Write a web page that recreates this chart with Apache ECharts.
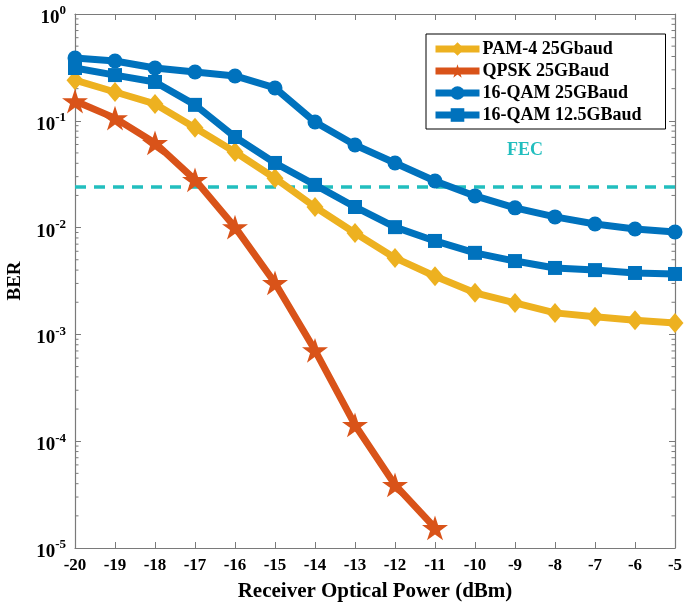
<!DOCTYPE html>
<html>
<head>
<meta charset="utf-8">
<script src="https://cdn.jsdelivr.net/npm/echarts@6/dist/echarts.min.js"></script>
<style>
  html, body { margin: 0; padding: 0; background: #fff; }
  #main { width: 685px; height: 606px; }
</style>
</head>
<body>
<div id="main"></div>
<script>
// received optical power (dBm)
var power = [-20, -19, -18, -17, -16, -15, -14, -13, -12, -11, -10, -9, -8, -7, -6, -5];
var pam4 = [0.24, 0.186, 0.144, 0.086, 0.051, 0.029, 0.0156, 0.0089, 0.0052, 0.0035, 0.00245, 0.00197, 0.00159, 0.00146, 0.00136, 0.00128];
var qpsk = [0.153, 0.106, 0.062, 0.028, 0.0101, 0.00303, 0.00071, 0.000142, 0.000039, 0.0000154];
var qam25 = [0.387, 0.363, 0.312, 0.286, 0.263, 0.203, 0.0975, 0.0593, 0.0403, 0.0273, 0.0198, 0.0153, 0.0126, 0.0108, 0.0097, 0.0091];
var qam125 = [0.312, 0.268, 0.231, 0.141, 0.0705, 0.0403, 0.0251, 0.0156, 0.0101, 0.0075, 0.0058, 0.00486, 0.00419, 0.0040, 0.00376, 0.00368];
var fecLimit = 0.024;
var seriesNames = ['PAM-4 25Gbaud', 'QPSK 25GBaud', '16-QAM 25GBaud', '16-QAM 12.5GBaud'];
var yTicks = ['10^0', '10^-1', '10^-2', '10^-3', '10^-4', '10^-5'];

var starPath = 'path://M100,0 L122.45,69.1 L195.1,69.1 L136.33,111.8 L158.78,180.9 L100,138.2 L41.22,180.9 L63.67,111.8 L4.9,69.1 L77.55,69.1 Z';

function pairs(ys) {
  return ys.map(function (v, i) { return [power[i], v]; });
}

// minor ticks for the log axis (2..9 in each decade)
var minorTicks = [];
for (var e = -5; e < 0; e++) {
  for (var m = 2; m <= 9; m++) minorTicks.push([-20, m * Math.pow(10, e)]);
}

var font = '"Liberation Serif", "Times New Roman", serif';
var axisGray = '#7a7a7a';

var myChart = echarts.init(document.getElementById('main'));
var option = {
  backgroundColor: '#fff',
  animation: false,
  textStyle: { fontFamily: font },
  grid: { left: 75, right: 10, top: 14, bottom: 58, outerBoundsMode: 'none', containLabel: false },
  legend: {
    orient: 'vertical',
    left: 426,
    top: 34,
    padding: [6, 24, 5, 6],
    itemGap: 4,
    itemWidth: 44,
    itemHeight: 17,
    borderColor: '#000',
    borderWidth: 1,
    backgroundColor: '#fff',
    lineStyle: { width: 7 },
    textStyle: { fontFamily: font, fontWeight: 'bold', fontSize: 18, color: '#000', padding: [0, 0, 0, -2] },
    data: seriesNames
  },
  xAxis: [{
    type: 'value',
    min: -20, max: -5, interval: 1,
    name: 'Receiver Optical Power (dBm)',
    nameLocation: 'middle',
    nameGap: 33,
    nameTextStyle: { fontFamily: font, fontWeight: 'bold', fontSize: 21, color: '#000' },
    axisLine: { lineStyle: { color: axisGray, width: 1.2 } },
    axisTick: { inside: true, length: 6, lineStyle: { color: axisGray } },
    splitLine: { show: false },
    axisLabel: { fontFamily: font, fontWeight: 'bold', fontSize: 17, color: '#000', margin: 9,
      showMinLabel: true, showMaxLabel: true }
  }, {
    type: 'value', position: 'top',
    min: -20, max: -5, interval: 1,
    axisLine: { lineStyle: { color: axisGray, width: 1.2 } },
    axisTick: { inside: true, length: 6, lineStyle: { color: axisGray } },
    axisLabel: { show: false },
    splitLine: { show: false }
  }],
  yAxis: [{
    type: 'log', logBase: 10,
    min: 1e-5, max: 1,
    name: 'BER',
    nameLocation: 'middle',
    nameGap: 50,
    nameTextStyle: { fontFamily: font, fontWeight: 'bold', fontSize: 19, color: '#000' },
    axisLine: { show: true, lineStyle: { color: axisGray, width: 1.2 } },
    axisTick: { show: true, inside: true, length: 6, lineStyle: { color: axisGray } },
    splitLine: { show: false },
    axisLabel: {
      margin: 9,
      showMinLabel: true, showMaxLabel: true,
      formatter: function (v) {
        var p = Math.round(Math.log10(v));
        var t = yTicks[-p].split('^');
        return '{b|' + t[0] + '}{s|' + t[1] + '}';
      },
      rich: {
        b: { fontFamily: font, fontWeight: 'bold', fontSize: 19, color: '#000', padding: [8, 0, 0, 0] },
        s: { fontFamily: font, fontWeight: 'bold', fontSize: 13, color: '#000', padding: [0, 0, 6, 0] }
      }
    }
  }, {
    type: 'log', logBase: 10, position: 'right',
    min: 1e-5, max: 1,
    axisLine: { show: true, lineStyle: { color: axisGray, width: 1.2 } },
    axisTick: { show: true, inside: true, length: 6, lineStyle: { color: axisGray } },
    axisLabel: { show: false },
    splitLine: { show: false }
  }],
  series: [
    {
      type: 'custom',
      silent: true,
      data: minorTicks,
      z: 1,
      renderItem: function (params, api) {
        var p = api.coord([-20, api.value(1)]);
        var q = api.coord([-5, api.value(1)]);
        return {
          type: 'group',
          children: [
            { type: 'line', shape: { x1: p[0], y1: p[1], x2: p[0] + 3.5, y2: p[1] }, style: { stroke: axisGray, lineWidth: 1 } },
            { type: 'line', shape: { x1: q[0], y1: q[1], x2: q[0] - 3.5, y2: q[1] }, style: { stroke: axisGray, lineWidth: 1 } }
          ]
        };
      }
    },
    {
      name: 'FEC',
      type: 'line',
      data: [[-20, fecLimit], [-5, fecLimit]],
      symbol: 'none',
      lineStyle: { color: '#22bebe', width: 3.5, type: [11, 8] },
      z: 2,
      markPoint: {
        symbol: 'rect', symbolSize: 1,
        itemStyle: { color: 'transparent' },
        label: { show: true, formatter: 'FEC', color: '#22bebe', fontFamily: font, fontWeight: 'bold', fontSize: 18, offset: [0, -37] },
        data: [{ coord: [-8.75, fecLimit] }]
      }
    },
    {
      name: seriesNames[0], type: 'line', data: pairs(pam4),
      color: '#edb120', symbol: 'diamond', symbolSize: [17, 20],
      lineStyle: { width: 7 }, z: 3
    },
    {
      name: seriesNames[1], type: 'line', data: pairs(qpsk),
      color: '#d95319', symbol: starPath, symbolSize: 26, symbolKeepAspect: true,
      lineStyle: { width: 7 }, z: 4
    },
    {
      name: seriesNames[2], type: 'line', data: pairs(qam25),
      color: '#0072bd', symbol: 'circle', symbolSize: 15,
      lineStyle: { width: 7 }, z: 5
    },
    {
      name: seriesNames[3], type: 'line', data: pairs(qam125),
      color: '#0072bd', symbol: 'rect', symbolSize: 14,
      lineStyle: { width: 7 }, z: 5
    }
  ]
};
myChart.setOption(option);
</script>
</body>
</html>
